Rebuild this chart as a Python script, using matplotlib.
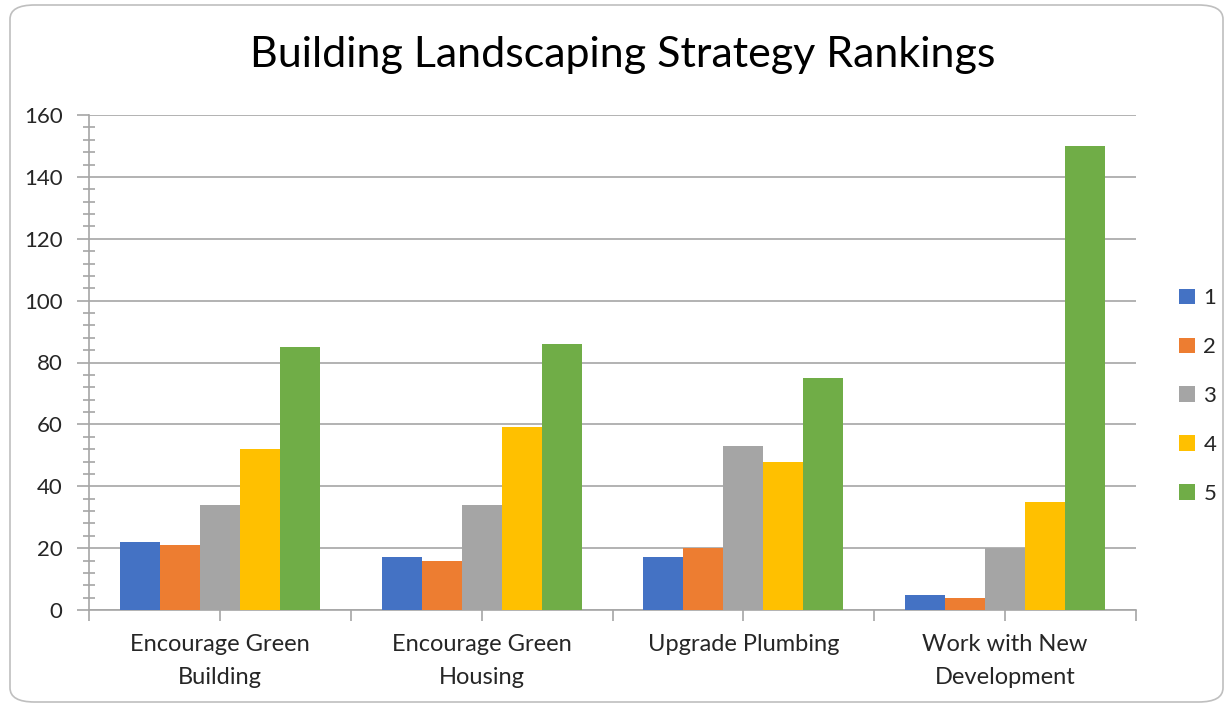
import numpy as np
import matplotlib
matplotlib.use("Agg")
from matplotlib import pyplot as plt
from matplotlib.patches import FancyBboxPatch
from matplotlib.ticker import MultipleLocator

# Balkendiagramm: Rangfolge der Strategien (Rang 1 bis 5)

categories = ["Encourage Green\nBuilding", "Encourage Green\nHousing",
              "Upgrade Plumbing", "Work with New\nDevelopment"]
ranks = ["1", "2", "3", "4", "5"]
rank1 = [22, 17, 17, 5]
rank2 = [21, 16, 20, 4]
rank3 = [34, 34, 53, 20]
rank4 = [52, 59, 48, 35]
rank5 = [85, 86, 75, 150]
colors = ["#4472c4", "#ed7d31", "#a5a5a5", "#ffc000", "#70ad47"]

plt.rcParams["font.family"] = ["Lato", "DejaVu Sans"]

fig = plt.figure(figsize=(12.31, 7.06), dpi=100)
ax = fig.add_axes([89 / 1231, 1 - 610 / 706, (1136 - 89) / 1231, (610 - 115) / 706])

x = np.arange(len(categories))
w = 0.153
series = [rank1, rank2, rank3, rank4, rank5]
for i, vals in enumerate(series):
    ax.bar(x + (i - 2) * w, vals, w, color=colors[i], label=ranks[i], zorder=3)

ax.set_xlim(-0.5, len(categories) - 0.5)
ax.set_ylim(0, 160)
ax.yaxis.set_major_locator(MultipleLocator(20))
ax.yaxis.set_minor_locator(MultipleLocator(4))
ax.grid(True, axis="y", color="#a6a6a6", linewidth=1.2, zorder=0)

ax.set_xticks(x)
ax.set_xticklabels(categories, fontsize=17, color="#262626", linespacing=1.75)
ax.set_xticks(np.arange(-0.5, len(categories), 1), minor=True)
ax.tick_params(axis="x", which="both", length=8, color="#a6a6a6", width=1.2, pad=9)
ax.tick_params(axis="y", which="major", length=9, color="#a6a6a6", width=1.2,
               labelsize=16, labelcolor="#262626", pad=10)
ax.tick_params(axis="y", which="minor", length=8, direction="inout", color="#a6a6a6", width=1.2)

for side in ["top", "right"]:
    ax.spines[side].set_visible(False)
ax.spines["left"].set_color("#a6a6a6")
ax.spines["bottom"].set_color("#a6a6a6")
ax.spines["left"].set_linewidth(1.2)
ax.spines["bottom"].set_linewidth(1.2)

fig.text(623 / 1231, 1 - 55 / 706, "Building Landscaping Strategy Rankings",
         ha="center", va="center", fontsize=31, color="#000000")

leg = fig.legend(loc="center left", bbox_to_anchor=(1179 / 1231, 1 - 396 / 706),
                 frameon=False, fontsize=16, handlelength=0.7, handleheight=0.7,
                 handletextpad=0.4, labelspacing=1.3, labelcolor="#262626",
                 borderaxespad=0, borderpad=0)

border = FancyBboxPatch((10 / 1231, 4 / 706), 1213 / 1231, 697 / 706,
                        boxstyle="round,pad=0,rounding_size=0.02",
                        transform=fig.transFigure, facecolor="none",
                        edgecolor="#bfbfbf", linewidth=1.2)
fig.patches.append(border)

fig.savefig("out.png", dpi=100)
